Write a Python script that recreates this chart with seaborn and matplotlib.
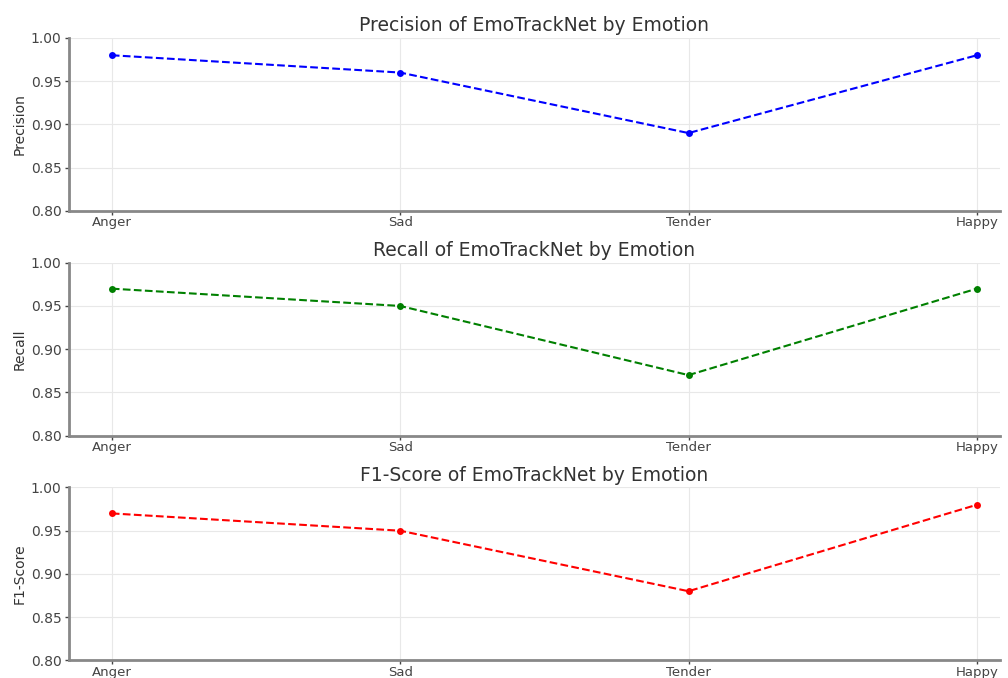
import matplotlib
matplotlib.use("Agg")
import matplotlib.pyplot as plt
import seaborn as sns
import pandas as pd

emotions = ["Anger", "Sad", "Tender", "Happy"]
precision = [0.98, 0.96, 0.89, 0.98]
recall = [0.97, 0.95, 0.87, 0.97]
f1_score = [0.97, 0.95, 0.88, 0.98]

metrics = [("Precision", precision, "blue"),
           ("Recall", recall, "green"),
           ("F1-Score", f1_score, "red")]

sns.set_theme(style="whitegrid")
plt.rcParams['font.family'] = ['DejaVu Sans']

fig, axes = plt.subplots(3, 1, figsize=(10.08, 6.78), dpi=100)
fig.subplots_adjust(left=0.068, right=0.992, top=0.944, bottom=0.026, hspace=0.30)

for ax, (name, vals, color) in zip(axes, metrics):
    df = pd.DataFrame({"Emotion": emotions, name: vals})
    df["pos"] = range(len(emotions))
    sns.lineplot(data=df, x="pos", y=name, ax=ax, color=color, linestyle="--",
                 marker="o", markersize=5, markeredgewidth=0, linewidth=1.5)
    ax.set_title(f"{name} of EmoTrackNet by Emotion", fontsize=13.5, color="#333333", pad=5)
    ax.set_ylim(0.80, 1.00)
    ax.set_xlim(-0.15, 3.08)
    ax.set_xticks(range(len(emotions)))
    ax.set_xticklabels(emotions)
    ax.set_xlabel("")
    ax.set_ylabel(name, fontsize=10, color="#333333", labelpad=3)
    ax.set_yticks([0.80, 0.85, 0.90, 0.95, 1.00])
    ax.set_yticklabels([f"{v:.2f}" for v in [0.80, 0.85, 0.90, 0.95, 1.00]])
    ax.tick_params(axis="both", labelsize=10, colors="#444444", length=3, width=1,
                   left=True, bottom=True, pad=2)
    ax.tick_params(axis="x", labelsize=9.5, pad=1)
    for lbl in ax.get_xticklabels() + ax.get_yticklabels():
        lbl.set_color("#444444")
    ax.grid(True, color="#e8e8e8", linewidth=0.8)
    for s in ["top", "right"]:
        ax.spines[s].set_visible(False)
    for s in ["left", "bottom"]:
        ax.spines[s].set_visible(True)
        ax.spines[s].set_color("#888888")
        ax.spines[s].set_linewidth(2)

fig.savefig("out.png", dpi=100, facecolor="white")
